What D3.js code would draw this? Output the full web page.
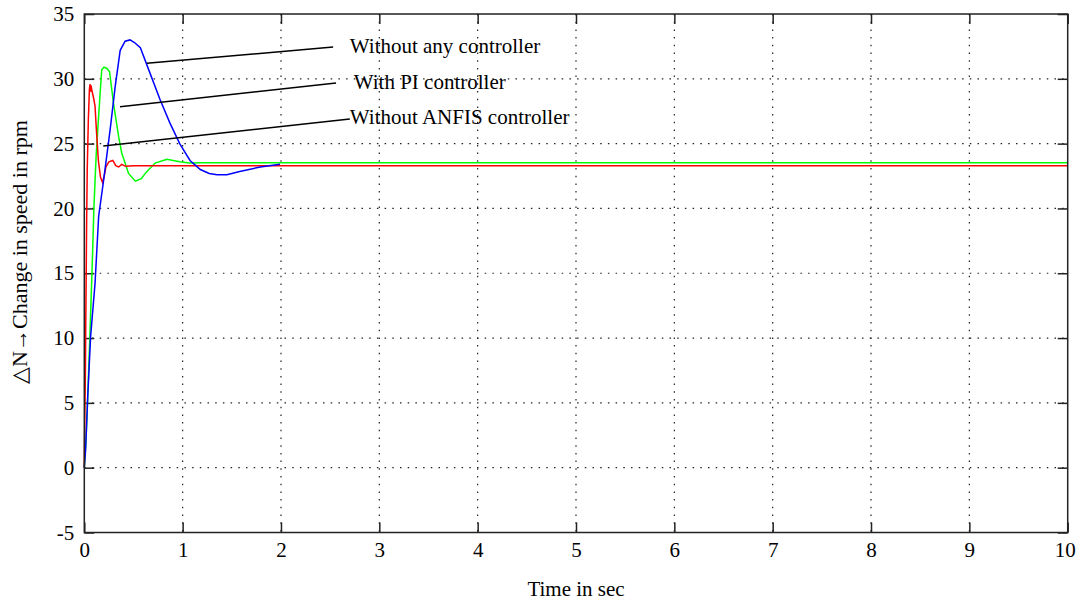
<!DOCTYPE html>
<html>
<head>
<meta charset="utf-8">
<script src="https://cdn.jsdelivr.net/npm/d3@7"></script>
<style>
  html, body { margin: 0; padding: 0; background: #fff; }
  svg { display: block; }
  text { font-family: "Liberation Serif", "Times New Roman", serif; fill: #000; }
</style>
</head>
<body>
<svg id="chart" width="1076" height="600"></svg>
<script>
// ---- Data ----
const xTicks = [0, 1, 2, 3, 4, 5, 6, 7, 8, 9, 10];
const yTicks = [-5, 0, 5, 10, 15, 20, 25, 30, 35];

// Without any controller (blue)
const tBlue = [0, 0.014, 0.035, 0.064, 0.109, 0.146, 0.197, 0.263, 0.314, 0.365, 0.415, 0.465, 0.51, 0.57, 0.67, 0.77, 0.87, 0.97, 1.075, 1.18, 1.27, 1.35, 1.45, 1.58, 1.79, 1.99];
const vBlue = [0, 1.5, 5.5, 10.1, 14.2, 19.4, 22.2, 26.1, 29.4, 32.2, 32.9, 33.0, 32.8, 32.4, 30.4, 28.4, 26.6, 25.0, 23.7, 23.0, 22.7, 22.6, 22.6, 22.85, 23.2, 23.4];

// With PI controller (green)
const tGreen = [0, 0.017, 0.035, 0.058, 0.08, 0.098, 0.12, 0.143, 0.177, 0.2, 0.23, 0.257, 0.297, 0.35, 0.38, 0.45, 0.52, 0.58, 0.63, 0.72, 0.84, 0.97, 1.07, 1.2, 10];
const vGreen = [0, 2.1, 5.5, 10.4, 15.5, 20.1, 24.0, 26.8, 30.7, 30.9, 30.8, 30.55, 28.1, 25.5, 24.3, 22.7, 22.1, 22.3, 22.8, 23.5, 23.8, 23.6, 23.5, 23.53, 23.53];

// Without ANFIS controller (red)
const tRed = [0, 0.004, 0.01, 0.017, 0.024, 0.03, 0.041, 0.052, 0.058, 0.064, 0.068, 0.08, 0.095, 0.109, 0.125, 0.143, 0.165, 0.186, 0.205, 0.22, 0.25, 0.29, 0.32, 0.35, 0.38, 0.42, 0.5, 10];
const vRed = [0, 3, 6.6, 13, 19.1, 23, 26.8, 29.2, 29.6, 29.0, 29.5, 29.0, 28.5, 27.9, 25.8, 23.7, 22.4, 22.0, 22.6, 23.2, 23.6, 23.7, 23.3, 23.2, 23.4, 23.25, 23.3, 23.3];

// Annotation labels and pointer lines (data coords)
const labels = ["Without any controller", "With PI controller", "Without ANFIS controller"];
const pointerStart = [[0.635, 31.2], [0.363, 27.85], [0.193, 24.82]];
const pointerEnd = [[2.53, 32.45], [2.56, 29.67], [2.7, 26.9]];
const labelPos = [[2.7, 32.53], [2.74, 29.75], [2.7, 27.05]];

const xTitle = "Time in sec";
const yTitle = "\u25B3N\u2192Change in speed in rpm";

// ---- Layout ----
const svg = d3.select("#chart");
const L = 84.3, R = 1067.7, T = 14, B = 532.5;
const x = d3.scaleLinear().domain([0, 10]).range([L, R]);
const y = d3.scaleLinear().domain([-5, 35]).range([B, T]);

// grid
const grid = svg.append("g");
xTicks.slice(1, -1).forEach(t => {
  grid.append("line").attr("x1", x(t)).attr("x2", x(t)).attr("y1", T).attr("y2", B)
    .attr("stroke", "#222").attr("stroke-width", 1.2).attr("stroke-dasharray", "1.5,6.2");
});
yTicks.slice(1, -1).forEach(v => {
  grid.append("line").attr("x1", L).attr("x2", R).attr("y1", y(v)).attr("y2", y(v))
    .attr("stroke", "#222").attr("stroke-width", 1.2).attr("stroke-dasharray", "1.5,6.2");
});

// axes (ticks inward on all sides)
const tl = 10;
const fmt = d => String(d);
svg.append("g").attr("class", "xaxis").attr("transform", `translate(0,${B})`)
  .call(d3.axisBottom(x).tickValues(xTicks).tickSize(-tl).tickPadding(10).tickFormat(fmt))
  .call(g => g.select(".domain").remove());
svg.append("g").attr("transform", `translate(0,${T})`)
  .call(d3.axisTop(x).tickValues(xTicks).tickSize(-tl).tickFormat(""))
  .call(g => g.select(".domain").remove());
svg.append("g").attr("transform", `translate(${L},0)`)
  .call(d3.axisLeft(y).tickValues(yTicks).tickSize(-tl).tickPadding(10).tickFormat(fmt))
  .call(g => g.select(".domain").remove());
svg.append("g").attr("transform", `translate(${R},0)`)
  .call(d3.axisRight(y).tickValues(yTicks).tickSize(-tl).tickFormat(""))
  .call(g => g.select(".domain").remove());
svg.selectAll(".tick line").attr("stroke", "#222").attr("stroke-width", 1.5);
svg.selectAll(".tick text").style("font-size", "21px").style("font-family", "Liberation Serif");
// keep last x label inside the picture
svg.selectAll(".xaxis .tick text").filter(d => d === 10).attr("dx", "-3");

// curves
const line = d3.line().x(d => x(d[0])).y(d => y(d[1]));
const series = [
  { t: tGreen, v: vGreen, c: "#00ff00" },
  { t: tRed, v: vRed, c: "#ff0000" },
  { t: tBlue, v: vBlue, c: "#0000ff" }
];
series.forEach(s => {
  svg.append("path").datum(s.t.map((t, i) => [t, s.v[i]]))
    .attr("d", line).attr("fill", "none").attr("stroke", s.c).attr("stroke-width", 1.5);
});

// pointer lines and labels
labels.forEach((lab, i) => {
  svg.append("line")
    .attr("x1", x(pointerStart[i][0])).attr("y1", y(pointerStart[i][1]))
    .attr("x2", x(pointerEnd[i][0])).attr("y2", y(pointerEnd[i][1]))
    .attr("stroke", "#000").attr("stroke-width", 1.5);
  svg.append("text").attr("x", x(labelPos[i][0])).attr("y", y(labelPos[i][1]))
    .attr("dy", "0.35em").style("font-size", "21px").text(lab);
});

// frame
svg.append("rect").attr("x", L).attr("y", T).attr("width", R - L).attr("height", B - T)
  .attr("fill", "none").attr("stroke", "#222").attr("stroke-width", 1.5);

// titles
svg.append("text").attr("x", (L + R) / 2).attr("y", 596).attr("text-anchor", "middle")
  .style("font-size", "21px").text(xTitle);
svg.append("text").attr("transform", `translate(27,252) rotate(-90)`).attr("text-anchor", "middle")
  .style("font-size", "22px").text(yTitle);
</script>
</body>
</html>
